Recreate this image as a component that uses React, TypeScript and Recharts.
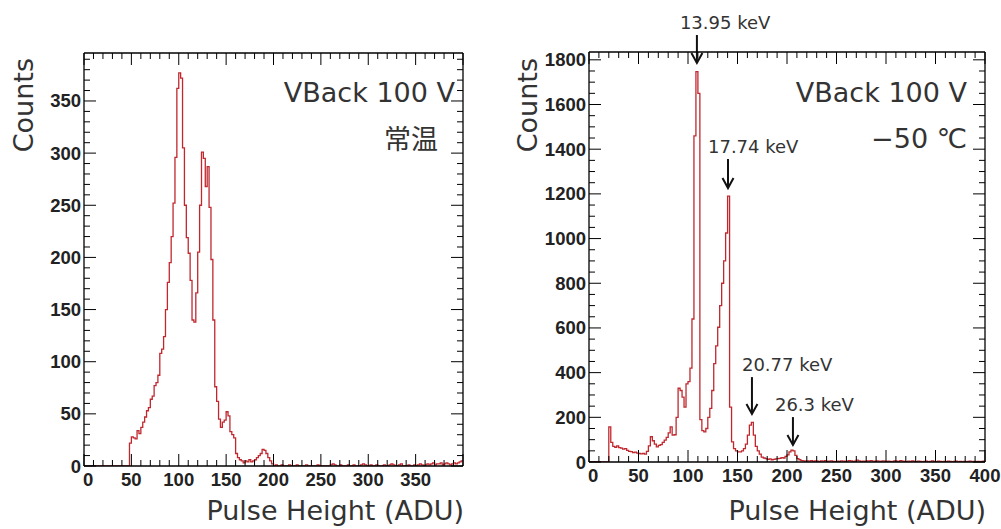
import React from 'react';
import { LineChart, Line, XAxis, YAxis, ReferenceLine } from 'recharts';

const BIN = 2; // ADU per histogram bin

// room temperature spectrum (left)
const roomStart = 48;
const roomCounts = [
  22, 28, 27, 26, 34, 31, 37, 42, 47, 53,
  56, 64, 67, 77, 80, 87, 108, 112, 124, 150,
  176, 195, 220, 252, 296, 362, 377, 372, 305, 250,
  219, 204, 178, 140, 138, 166, 205, 250, 301, 295,
  268, 287, 248, 198, 140, 76, 62, 45, 37, 42,
  44, 52, 48, 33, 30, 27, 12, 8, 6, 5,
  3, 5, 4, 6, 4, 5, 6, 8, 10, 12,
  16, 15, 12, 8, 5, 2,
];
const roomTailStart = 200;
const roomTail = [
  0, 1, 0, 0, 1, 0, 0, 0, 1, 0, 0, 0, 1, 0, 0, 0, 0, 1, 0, 0, 0, 0, 0, 1, 0, 0, 0, 0, 0, 0,
  1, 2, 1, 0, 0, 1, 0, 0, 0, 1, 0, 0, 1, 0, 0, 0, 1, 2, 1, 0, 0, 1, 0, 0, 1, 0, 0, 0, 1, 0,
  0, 1, 2, 1, 0, 0, 1, 2, 0, 0, 0, 1, 0, 0, 1, 0, 1, 2, 1, 0,
  1, 2, 1, 2, 3, 1, 2, 2, 3, 1, 2, 3, 2, 1, 2, 3, 2, 3, 4, 5,
];

// -50 C spectrum (right)
const coldStart = 20;
const coldCounts = [
  157, 88, 70, 66, 72, 64, 62, 58, 60, 52,
  48, 46, 42, 44, 40, 38, 36, 38, 35, 48,
  72, 113, 95, 80, 68, 74, 78, 88, 98, 110,
  130, 157, 120, 122, 200, 330, 320, 290, 246, 350,
  360, 420, 640, 1460, 1747, 1650, 190, 140, 135, 150,
  200, 240, 320, 440, 520, 603, 700, 800, 900, 1025,
  1190, 246, 90, 60, 50, 45, 45, 50, 60, 80,
  120, 165, 177, 120, 70, 50, 35, 22, 18, 15,
  12, 14, 10, 12, 14, 15, 16, 20, 18, 25,
  32, 45, 53, 50, 30, 15, 10, 6, 5, 4,
];
const coldTailStart = 220;
const coldTail = [
  5, 4, 6, 3, 5, 4, 3, 5, 4, 6, 3, 4, 5, 3, 2, 4, 3, 5, 4, 3,
  4, 6, 5, 3, 4, 8, 5, 3, 4, 3, 5, 4, 6, 4, 3, 5, 4, 3, 5, 4,
  3, 4, 2, 3, 5, 4, 3, 6, 4, 3, 2, 4, 3, 5, 3, 2, 4, 3, 2, 3,
  4, 2, 3, 5, 3, 2, 4, 3, 2, 3, 2, 4, 3, 2, 3, 4, 2, 3, 2, 3,
  2, 3, 4, 2, 3, 2, 3, 2, 3, 4,
];

const roomXLabels = [0, 50, 100, 150, 200, 250, 300, 350];
const coldXLabels = [0, 50, 100, 150, 200, 250, 300, 350, 400];
const roomYLabels = [0, 50, 100, 150, 200, 250, 300, 350];
const coldYLabels = [0, 200, 400, 600, 800, 1000, 1200, 1400, 1600, 1800];

const coldPeaks = [
  { label: '13.95 keV', adu: 109, from: 1911, to: 1786 },
  { label: '17.74 keV', adu: 140.4, from: 1356, to: 1226 },
  { label: '20.77 keV', adu: 164.6, from: 380, to: 215 },
  { label: '26.3 keV', adu: 206, from: 201, to: 76 },
];
const peakTextShift = [17, 20, 10, 18];

const range = (from: number, to: number, step: number) =>
  Array.from({ length: Math.floor((to - from) / step) + 1 }, (_, i) => from + i * step);

function toHist(start: number, counts: number[], tailStart: number, tail: number[], end: number) {
  const pts = [{ x: 0, c: 0 }];
  counts.forEach((c, i) => pts.push({ x: start + i * BIN, c }));
  tail.forEach((c, i) => pts.push({ x: tailStart + i * BIN, c }));
  pts.push({ x: end, c: tail[tail.length - 1] });
  return pts;
}

const roomData = toHist(roomStart, roomCounts, roomTailStart, roomTail, 400);
const coldData = toHist(coldStart, coldCounts, coldTailStart, coldTail, 400);

const TICK_FONT = '"Liberation Sans", Arial, sans-serif';
const TEXT_FONT = '"DejaVu Sans", Verdana, sans-serif';
const HIST_RED = '#c0282e';
const FRAME = { stroke: '#000', strokeWidth: 1.3 };

type Side = 'bottom' | 'top' | 'left' | 'right';

// ROOT-style ticks: drawn inside the frame, labels only on bottom/left
function makeTick(side: Side, majors: number[], labels: number[]) {
  return (props: any) => {
    const { x, y, payload } = props;
    const v = payload.value;
    const len = majors.includes(v) ? 12 : 6;
    const show = labels.includes(v);
    let line;
    let text = null;
    if (side === 'bottom') {
      line = <line x1={x} x2={x} y1={y} y2={y - len} stroke="#000" />;
      if (show)
        text = (
          <text
            x={v === 0 ? x - 1 : x}
            y={y + 20}
            textAnchor={v === 0 ? 'start' : 'middle'}
            fontFamily={TICK_FONT}
            fontSize={18.5}
            fontWeight={700}
            fill="#222"
          >
            {v}
          </text>
        );
    } else if (side === 'top') {
      line = <line x1={x} x2={x} y1={y} y2={y + len} stroke="#000" />;
    } else if (side === 'left') {
      line = <line x1={x} x2={x + len} y1={y} y2={y} stroke="#000" />;
      if (show)
        text = (
          <text x={x - 3} y={y + 6.5} textAnchor="end" fontFamily={TICK_FONT} fontSize={18.5} fontWeight={700} fill="#222">
            {v}
          </text>
        );
    } else {
      line = <line x1={x} x2={x - len} y1={y} y2={y} stroke="#000" />;
    }
    return (
      <g>
        {line}
        {text}
      </g>
    );
  };
}

const arrowShape = (label: string, shift: number) => (p: any) => (
  <g>
    <line x1={p.x1} y1={p.y1} x2={p.x2} y2={p.y2} stroke="#111" strokeWidth={2} />
    <polyline
      points={`${p.x2 - 5.5},${p.y2 - 10} ${p.x2},${p.y2} ${p.x2 + 5.5},${p.y2 - 10}`}
      fill="none"
      stroke="#111"
      strokeWidth={2}
    />
    <text x={p.x1 - shift} y={p.y1 - 6} fontFamily={TEXT_FONT} fontSize={18} fill="#333">
      {label}
    </text>
  </g>
);

interface PanelProps {
  data: { x: number; c: number }[];
  width: number;
  plot: { left: number; top: number; right: number; bottom: number };
  yMax: number;
  yStep: number;
  yLast: number;
  yLabels: number[];
  xLabels: number[];
  children?: React.ReactNode;
}

// axes are 1px thick so they still render; margins give the plot frame
function Panel({ data, width, plot, yMax, yStep, yLast, yLabels, xLabels, children }: PanelProps) {
  const xTicks = range(0, 400, 10);
  const yTicks = range(0, yLast, yStep);
  const margin = {
    top: plot.top - 1,
    left: plot.left - 1,
    right: width - plot.right - 1,
    bottom: 529 - plot.bottom - 1,
  };
  const common = {
    type: 'number' as const,
    interval: 0 as const,
    tickSize: 0,
    tickMargin: 0,
    tickLine: false,
    axisLine: FRAME,
    allowDataOverflow: true,
  };
  return (
    <LineChart width={width} height={529} data={data} margin={margin}>
      <XAxis xAxisId="b" dataKey="x" domain={[0, 400]} ticks={xTicks} height={1} tick={makeTick('bottom', coldXLabels, xLabels)} {...common} />
      <XAxis xAxisId="t" orientation="top" dataKey="x" domain={[0, 400]} ticks={xTicks} height={1} tick={makeTick('top', coldXLabels, [])} {...common} />
      <YAxis yAxisId="l" domain={[0, yMax]} ticks={yTicks} width={1} tick={makeTick('left', yLabels, yLabels)} {...common} />
      <YAxis yAxisId="r" orientation="right" domain={[0, yMax]} ticks={yTicks} width={1} tick={makeTick('right', yLabels, [])} {...common} />
      <Line
        xAxisId="b"
        yAxisId="l"
        type="stepAfter"
        dataKey="c"
        stroke={HIST_RED}
        strokeWidth={1.3}
        dot={false}
        isAnimationActive={false}
      />
      {children}
    </LineChart>
  );
}

const titleStyle = { fontFamily: TEXT_FONT, fontSize: 27, fill: '#333' };

export default function App() {
  return (
    <div style={{ position: 'absolute', left: 0, top: 0, width: 1001, height: 529, background: '#fff' }}>
      <div style={{ position: 'absolute', left: 0, top: 0 }}>
        <Panel
          data={roomData}
          width={480}
          plot={{ left: 84, top: 53, right: 463, bottom: 466 }}
          yMax={396}
          yStep={10}
          yLast={390}
          yLabels={roomYLabels}
          xLabels={roomXLabels}
        />
      </div>
      <div style={{ position: 'absolute', left: 500, top: 0 }}>
        <Panel
          data={coldData}
          width={501}
          plot={{ left: 89, top: 52, right: 485, bottom: 462 }}
          yMax={1835}
          yStep={50}
          yLast={1800}
          yLabels={coldYLabels}
          xLabels={coldXLabels}
        >
          {coldPeaks.map((p, i) => (
            <ReferenceLine
              key={p.label}
              xAxisId="b"
              yAxisId="l"
              segment={[{ x: p.adu, y: p.from }, { x: p.adu, y: p.to }]}
              ifOverflow="visible"
              shape={arrowShape(p.label, peakTextShift[i])}
            />
          ))}
        </Panel>
      </div>
      <svg width={1001} height={529} style={{ position: 'absolute', left: 0, top: 0, pointerEvents: 'none' }}>
        <text transform="translate(33,58) rotate(-90)" textAnchor="end" {...titleStyle}>Counts</text>
        <text transform="translate(537,58) rotate(-90)" textAnchor="end" {...titleStyle}>Counts</text>
        <text x={464} y={520} textAnchor="end" {...titleStyle}>Pulse Height (ADU)</text>
        <text x={986} y={520} textAnchor="end" {...titleStyle}>Pulse Height (ADU)</text>
        <text x={455} y={102} textAnchor="end" {...titleStyle}>VBack 100 V</text>
        <text x={438} y={149} textAnchor="end" {...titleStyle} fontFamily='"Noto Sans CJK SC", sans-serif'>常温</text>
        <text x={967} y={102} textAnchor="end" {...titleStyle}>VBack 100 V</text>
        <text x={967} y={148} textAnchor="end" {...titleStyle}>−50 ℃</text>
      </svg>
    </div>
  );
}
